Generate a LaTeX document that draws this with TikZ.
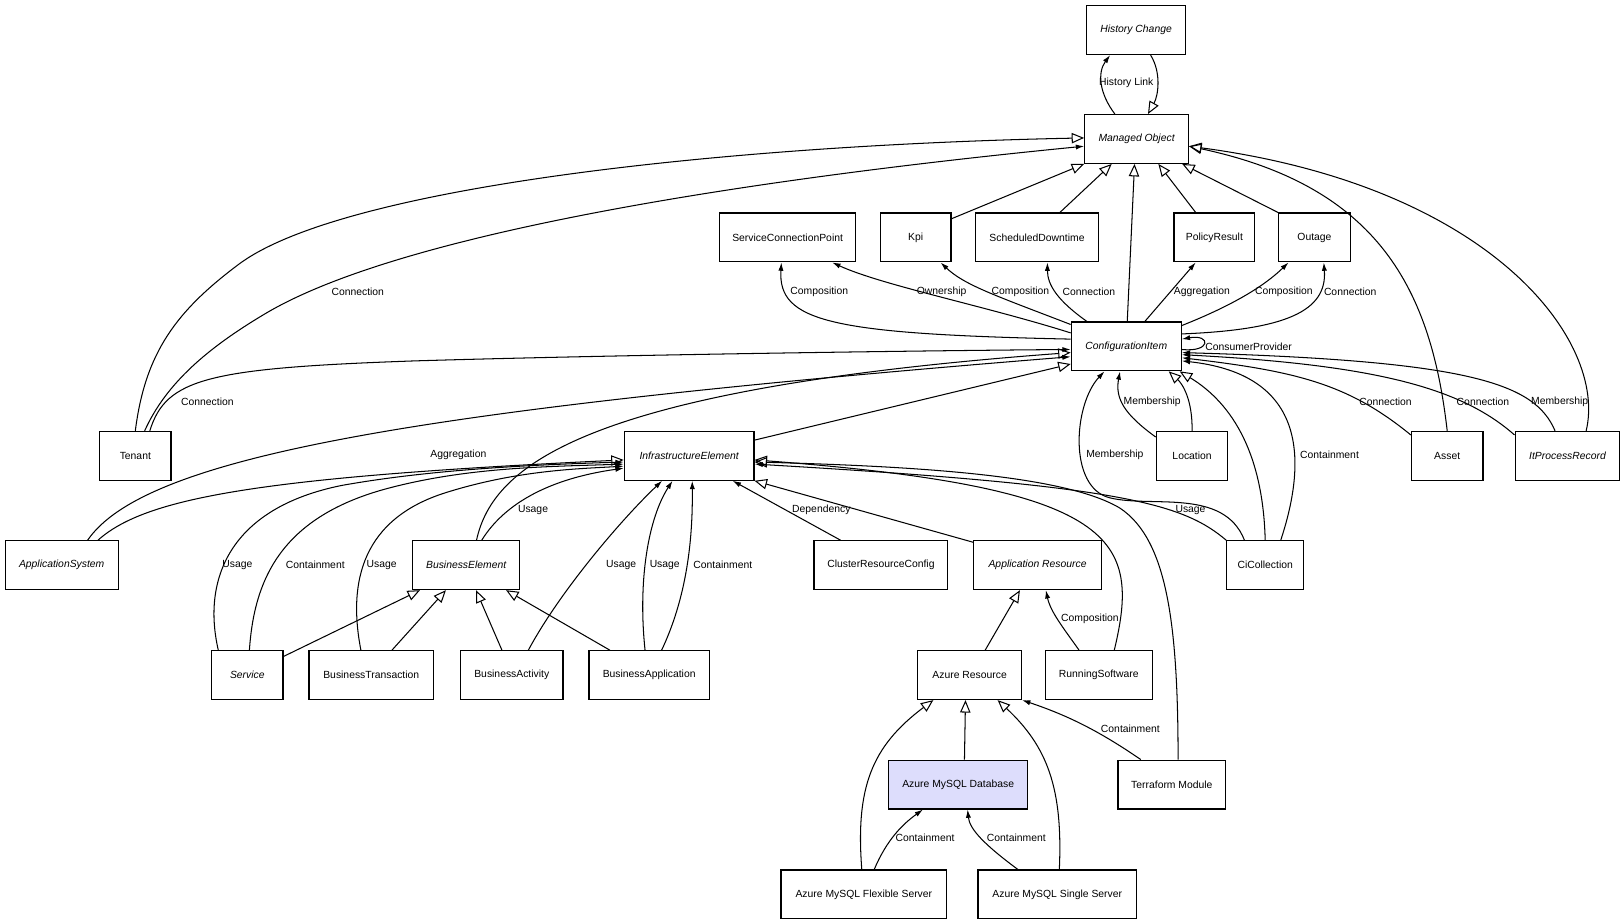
\documentclass[tikz,border=0pt]{standalone}
\usepackage{fontspec}
\setmainfont{Liberation Sans}
\usepackage{xcolor}
\usetikzlibrary{positioning,arrows.meta}
\definecolor{dbfill}{RGB}{221,221,252}

\begin{document}
\begin{tikzpicture}[x=1pt, y=-1pt, every node/.style={font=\fontsize{10}{12}\selectfont},
    cls/.style={draw, line width=1.2pt, fill=white, minimum height=47pt, inner sep=2pt},
    abstr/.style={cls, font=\fontsize{10}{12}\selectfont\itshape},
    gen/.style={line width=1pt, -{Triangle[open, length=12pt, width=10pt]}},
    assoc/.style={line width=1pt, -{Latex[length=8pt, width=5pt]}},
    elabel/.style={inner sep=1pt}]
                \useasboundingbox (0,0) rectangle (1566,891);

                % classes
                \node[abstr, minimum width=95pt] (hist) at (1095.5,29) {History Change};
                \node[abstr, minimum width=100pt] (mo) at (1096,134) {Managed Object};
                \node[cls, minimum width=131pt] (scp) at (759.5,229) {ServiceConnectionPoint};
                \node[cls, minimum width=68pt] (kpi) at (883,229) {Kpi};
                \node[cls, minimum width=118pt] (sched) at (1000,229) {ScheduledDowntime};
                \node[cls, minimum width=78pt] (policy) at (1171,229) {PolicyResult};
                \node[cls, minimum width=69pt] (outage) at (1267.5,229) {Outage};
                \node[abstr, minimum width=106pt] (ci) at (1086,334) {ConfigurationItem};
                \node[cls, minimum width=69pt] (tenant) at (130.5,439.5) {Tenant};
                \node[abstr, minimum width=125pt] (infra) at (664.5,439.5) {InfrastructureElement};
                \node[cls, minimum width=69pt] (location) at (1149.5,439.5) {Location};
                \node[cls, minimum width=69pt] (asset) at (1395.5,439.5) {Asset};
                \node[abstr, minimum width=101pt] (itproc) at (1511.5,439.5) {ItProcessRecord};
                \node[abstr, minimum width=109pt] (appsys) at (59.5,545) {ApplicationSystem};
                \node[abstr, minimum width=103pt] (buselem) at (449.5,545) {BusinessElement};
                \node[cls, minimum width=129pt] (crc) at (849.5,545) {ClusterResourceConfig};
                \node[abstr, minimum width=123pt] (appres) at (1000.5,545) {Application Resource};
                \node[cls, minimum width=74pt] (cicoll) at (1220,545) {CiCollection};
                \node[abstr, minimum width=69pt] (service) at (238.5,651) {Service};
                \node[cls, minimum width=120pt] (bustrans) at (358,651) {BusinessTransaction};
                \node[cls, minimum width=99pt] (busact) at (493.5,651) {BusinessActivity};
                \node[cls, minimum width=116pt] (busapp) at (626,651) {BusinessApplication};
                \node[cls, minimum width=100pt] (azres) at (935,651) {Azure Resource};
                \node[cls, minimum width=103pt] (runsw) at (1059.5,651) {RunningSoftware};
                \node[cls, fill=dbfill, minimum width=134pt] (azdb) at (924,756.5) {Azure MySQL Database};
                \node[cls, minimum width=104pt] (terra) at (1130,756.5) {Terraform Module};
                \node[cls, minimum width=160pt] (flex) at (833,862.5) {Azure MySQL Flexible Server};
                \node[cls, minimum width=153pt] (single) at (1019.5,862.5) {Azure MySQL Single Server};

                % top: history and managed object
                \draw[assoc] ([xshift=-21pt]mo.north) .. controls (1060,90) and (1058,70) .. ([xshift=-25pt]hist.south);
                \draw[gen] ([xshift=14pt]hist.south) .. controls (1120,70) and (1117,92) .. ([xshift=11pt]mo.north);
                \draw[gen] (tenant.north) .. controls (140,340) and (170,300) .. (230,255) .. controls (330,180) and (700,140) .. ([yshift=1pt]mo.west);
                \draw[assoc] ([xshift=9pt]tenant.north) .. controls (160,370) and (200,335) .. (260,300) .. controls (400,220) and (750,170) .. ([yshift=-7pt]mo.west);
                \draw[gen] ([yshift=-6pt]kpi.north east) -- (mo.south west);
                \draw[gen] ([xshift=22pt]sched.north) -- ([xshift=-24pt]mo.south);
                \draw[gen] ([xshift=1pt]ci.north) -- ([xshift=-2pt]mo.south);
                \draw[gen] ([xshift=-18pt]policy.north) -- ([xshift=21pt]mo.south);
                \draw[gen] (outage.north west) -- ([xshift=44pt]mo.south);
                \draw[gen] (asset.north) .. controls (1380,280) and (1330,180) .. ([yshift=-7pt]mo.east);
                \draw[gen] ([xshift=18pt]itproc.north) .. controls (1550,330) and (1440,180) .. ([yshift=-7pt]mo.east);

                % configuration item associations
                \draw[assoc] ([xshift=14pt]tenant.north) .. controls (160,365) and (200,355) .. (400,348) .. controls (600,342) and (900,338) .. ([yshift=-3pt]ci.west);
                \draw[assoc] ([yshift=7pt]ci.west) .. controls (800,322) and (750,310) .. ([xshift=-6pt]scp.south);
                \draw[assoc] ([yshift=13pt]ci.west) .. controls (950,295) and (850,275) .. ([xshift=43pt]scp.south);
                \draw[assoc] ([yshift=-3pt]ci.north west) .. controls (960,285) and (930,275) .. ([xshift=24pt]kpi.south);
                \draw[assoc] ([xshift=-38pt]ci.north) .. controls (1020,290) and (1010,275) .. ([xshift=10pt]sched.south);
                \draw[assoc] ([xshift=18pt]ci.north) -- ([xshift=-18pt]policy.south);
                \draw[assoc] ([yshift=-4pt]ci.north east) .. controls (1200,290) and (1225,270) .. ([xshift=-25pt]outage.south);
                \draw[assoc] ([yshift=12pt]ci.east) .. controls (1240,318) and (1280,300) .. ([xshift=9pt]outage.south);
                \draw[assoc] ([yshift=-3pt]ci.east) .. controls (1168,340) and (1168,322) .. ([yshift=7pt]ci.east);
                \draw[assoc] ([xshift=25pt]appsys.north) .. controls (140,440) and (400,395) .. ([yshift=-10pt]ci.west);
                \draw[gen] ([xshift=10pt]buselem.north) .. controls (475,450) and (560,375) .. ([yshift=-6pt]ci.west);
                \draw[gen] ([yshift=-9pt]infra.north east) -- ([yshift=-17pt]ci.west);
                \draw[assoc] ([yshift=-4pt]asset.north west) .. controls (1300,370) and (1250,358) .. ([yshift=-11pt]ci.east);
                \draw[assoc] ([yshift=-4pt]itproc.north west) .. controls (1410,375) and (1330,352) .. ([yshift=-8pt]ci.east);
                \draw[assoc] ([xshift=-12pt]itproc.north) .. controls (1480,370) and (1420,348) .. ([yshift=-6pt]ci.east);
                \draw[assoc] ([xshift=15pt]cicoll.north) .. controls (1265,430) and (1250,360) .. ([yshift=-14pt]ci.east);
                \draw[gen] (cicoll.north) .. controls (1218,440) and (1190,390) .. ([xshift=-2pt]ci.south east);
                \draw[gen] (location.north) .. controls (1150,385) and (1140,370) .. ([xshift=41pt]ci.south);
                \draw[assoc] ([yshift=-6pt]location.north west) .. controls (1085,400) and (1075,385) .. ([xshift=-6pt]ci.south);
                \draw[assoc] ([xshift=-20pt]cicoll.north) .. controls (1180,470) and (1110,490) .. (1070,480) .. controls (1030,470) and (1035,390) .. ([xshift=-21pt]ci.south);

                % infrastructure element
                \draw[assoc] (cicoll.north west) .. controls (1140,485) and (1080,468) .. ([yshift=-8pt]infra.east);
                \draw[gen] ([xshift=15pt]runsw.north) .. controls (1100,520) and (1080,470) .. ([yshift=-4pt]infra.east);
                \draw[gen] ([xshift=6pt]terra.north) .. controls (1136,600) and (1125,520) .. (1080,490) .. controls (1030,460) and (900,450) .. ([yshift=-6pt]infra.east);
                \draw[gen] ([yshift=-2pt]appres.north west) -- (infra.south east);
                \draw[assoc] ([xshift=-39pt]crc.north) -- ([xshift=42pt]infra.south);
                \draw[gen] ([xshift=35pt]appsys.north) .. controls (140,480) and (250,460) .. ([yshift=-4pt]infra.west);
                \draw[assoc] ([xshift=-28pt]service.north) .. controls (195,560) and (220,490) .. (330,468) .. controls (420,452) and (520,448) .. ([yshift=-6pt]infra.west);
                \draw[assoc] ([xshift=2pt]service.north) .. controls (245,560) and (270,500) .. (370,472) .. controls (450,450) and (530,450) .. ([yshift=-8pt]infra.west);
                \draw[assoc] ([xshift=-10pt]bustrans.north) .. controls (335,560) and (350,500) .. (430,475) .. controls (500,453) and (560,452) .. ([yshift=-10pt]infra.west);
                \draw[assoc] ([xshift=15pt]buselem.north) .. controls (490,480) and (540,460) .. ([yshift=-12pt]infra.west);
                \draw[assoc] ([xshift=16pt]busact.north) .. controls (540,570) and (600,500) .. ([xshift=-26pt]infra.south);
                \draw[assoc] ([xshift=-4pt]busapp.north) .. controls (615,560) and (625,500) .. ([xshift=-16pt]infra.south);
                \draw[assoc] ([xshift=12pt]busapp.north) .. controls (665,570) and (668,510) .. ([xshift=3pt]infra.south);

                % business element
                \draw[gen] ([yshift=-6pt]service.north east) -- ([xshift=-44.5pt]buselem.south);
                \draw[gen] ([xshift=20pt]bustrans.north) -- ([xshift=-19.5pt]buselem.south);
                \draw[gen] ([xshift=-9.5pt]busact.north) -- ([xshift=9.5pt]buselem.south);
                \draw[gen] ([xshift=-38pt]busapp.north) -- ([xshift=38.5pt]buselem.south);

                % azure
                \draw[gen] ([xshift=15pt]azres.north) -- ([xshift=-17pt]appres.south);
                \draw[assoc] ([xshift=-19pt]runsw.north) .. controls (1025,605) and (1013,590) .. ([xshift=8pt]appres.south);
                \draw[gen] ([xshift=6pt]azdb.north) -- ([xshift=-4pt]azres.south);
                \draw[gen] ([xshift=-2pt]flex.north) .. controls (825,760) and (840,720) .. ([xshift=-35pt]azres.south);
                \draw[gen] ([xshift=2pt]single.north) .. controls (1025,760) and (1010,720) .. ([xshift=27pt]azres.south);
                \draw[assoc] ([xshift=-30pt]terra.north) .. controls (1060,705) and (1030,690) .. (azres.south east);
                \draw[assoc] ([xshift=10pt]flex.north) .. controls (855,810) and (870,795) .. ([xshift=-34pt]azdb.south);
                \draw[assoc] ([xshift=-38pt]single.north) .. controls (950,815) and (935,800) .. ([xshift=9pt]azdb.south);

                % labels
                \node[elabel] (lhist) at (1086,80) {History Link};
                \node[elabel] (ltenmo) at (345,281) {Connection};
                \node[elabel] (ltenci) at (200,387) {Connection};
                \node[elabel] (lscpcomp) at (790,281) {Composition};
                \node[elabel] (lscpown) at (908,281) {Ownership};
                \node[elabel] (lkpi) at (984,281) {Composition};
                \node[elabel] (lsched) at (1050,281) {Connection};
                \node[elabel] (lpolicy) at (1159,281) {Aggregation};
                \node[elabel] (loutcomp) at (1238,281) {Composition};
                \node[elabel] (loutconn) at (1302,281) {Connection};
                \node[elabel] (lloop) at (1204,334) {ConsumerProvider};
                \node[elabel] (lloc) at (1111,387) {Membership};
                \node[elabel] (lasset) at (1336,387) {Connection};
                \node[elabel] (litconn) at (1430,387) {Connection};
                \node[elabel] (litmem) at (1504,387) {Membership};
                \node[elabel] (lappsys) at (442,439) {Aggregation};
                \node[elabel] (lcimem) at (1075,439) {Membership};
                \node[elabel] (lcicont) at (1282,439) {Containment};
                \node[elabel] (lbeuse) at (514,492) {Usage};
                \node[elabel] (lcrc) at (792,492) {Dependency};
                \node[elabel] (lciuse) at (1148,492) {Usage};
                \node[elabel] (lsvuse) at (229,545) {Usage};
                \node[elabel] (lsvcont) at (304,545) {Containment};
                \node[elabel] (lbtuse) at (368,545) {Usage};
                \node[elabel] (lbause) at (599,545) {Usage};
                \node[elabel] (lbapuse) at (641,545) {Usage};
                \node[elabel] (lbapcont) at (697,545) {Containment};
                \node[elabel] (lrscomp) at (1051,597) {Composition};
                \node[elabel] (ltfcont) at (1090,703) {Containment};
                \node[elabel] (lflexcont) at (892,808) {Containment};
                \node[elabel] (lsglcont) at (980,808) {Containment};
            \end{tikzpicture}
\end{document}
